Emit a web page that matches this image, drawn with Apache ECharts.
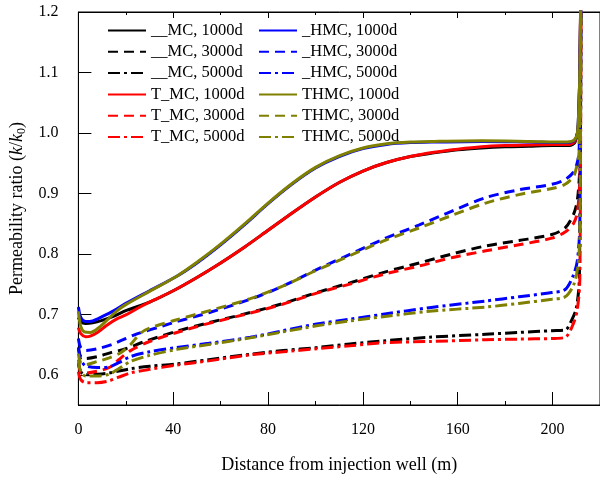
<!DOCTYPE html>
<html>
<head>
<meta charset="utf-8">
<script src="https://cdn.jsdelivr.net/npm/echarts@6/dist/echarts.min.js"></script>
<style>
	html, body { margin: 0; padding: 0; background: #fff; }
	#container { width: 600px; height: 479px; }
</style>
</head>
<body>
<div id="container"></div>
<script>
// 刻度
var xTicks = [0, 40, 80, 120, 160, 200];
var yTicks = [0.6, 0.7, 0.8, 0.9, 1.0, 1.1, 1.2];

// 图例名称
var namesLeft = ['__MC, 1000d', '__MC, 3000d', '__MC, 5000d', 'T_MC, 1000d', 'T_MC, 3000d', 'T_MC, 5000d'];
var namesRight = ['_HMC, 1000d', '_HMC, 3000d', '_HMC, 5000d', 'THMC, 1000d', 'THMC, 3000d', 'THMC, 5000d'];

// [距离(m), k/k0]
var mc1000 = [[0,0.695],[1,0.688],[3,0.685],[6,0.686],[10,0.69],[15,0.697],[20,0.706],[25,0.713],[30,0.72],[40,0.739],[50,0.761],[60,0.785],[70,0.811],[80,0.839],[90,0.867],[100,0.894],[110,0.918],[120,0.937],[130,0.951],[140,0.961],[150,0.967],[160,0.972],[170,0.975],[180,0.977],[190,0.978],[200,0.979],[207,0.979],[209.5,0.985],[211,1.02],[212,1.3]];
var mc3000 = [[0,0.645],[1,0.63],[3,0.627],[8,0.63],[14,0.637],[20,0.643],[28,0.655],[41.5,0.672],[55,0.686],[72.5,0.703],[86.4,0.718],[100.5,0.736],[114.5,0.752],[128.5,0.769],[143.8,0.785],[157.8,0.8],[171.8,0.813],[185.8,0.822],[199.7,0.832],[205.3,0.843],[208.8,0.865],[210.5,0.89],[211.5,0.95],[212,1.3]];
var mc5000 = [[0,0.62],[1,0.605],[3,0.6],[8,0.601],[13,0.603],[17,0.606],[22,0.61],[30,0.614],[41.5,0.618],[55,0.625],[72.5,0.634],[86.4,0.64],[100.5,0.645],[114.5,0.651],[128.5,0.656],[148,0.662],[171.8,0.667],[185.8,0.67],[199.7,0.673],[205.3,0.674],[208,0.69],[210,0.71],[211.3,0.76],[212,1.3]];
var tmc1000 = [[0,0.678],[1,0.668],[3,0.663],[5,0.664],[8,0.67],[12,0.682],[16,0.692],[20,0.699],[25,0.71],[30,0.72],[40,0.739],[50,0.761],[60,0.785],[70,0.811],[80,0.839],[90,0.867],[100,0.894],[110,0.918],[120,0.937],[130,0.951],[140,0.961],[150,0.968],[160,0.973],[170,0.977],[180,0.979],[190,0.98],[200,0.981],[207,0.981],[209.5,0.987],[211,1.02],[212,1.3]];
var tmc3000 = [[0,0.62],[1,0.605],[3,0.603],[8,0.606],[13,0.612],[17,0.625],[22,0.64],[30,0.655],[41.5,0.67],[55,0.685],[72.5,0.702],[86.4,0.717],[100.5,0.735],[114.5,0.75],[128.5,0.766],[143.8,0.78],[157.8,0.794],[171.8,0.805],[185.8,0.815],[199.7,0.826],[205.3,0.836],[208.8,0.85],[210.5,0.87],[211.5,0.93],[212,1.3]];
var tmc5000 = [[0,0.605],[1,0.592],[3,0.587],[8,0.587],[13,0.59],[17,0.596],[22,0.603],[30,0.609],[41.5,0.616],[55,0.623],[72.5,0.633],[86.4,0.638],[100.5,0.643],[114.5,0.648],[128.5,0.653],[148,0.655],[171.8,0.658],[185.8,0.659],[199.7,0.66],[205.3,0.662],[208.8,0.685],[210.5,0.71],[211.5,0.76],[212,1.3]];
var hmc1000 = [[0,0.712],[1,0.695],[3,0.688],[6,0.689],[10,0.696],[15,0.706],[20,0.718],[30,0.739],[41.5,0.763],[50,0.785],[60,0.815],[70,0.848],[80,0.883],[90,0.915],[100,0.942],[110,0.961],[120,0.974],[130,0.981],[140,0.984],[150,0.985],[170,0.986],[190,0.985],[205,0.984],[209,0.987],[210.5,1.0],[211.5,1.1],[212,1.3]];
var hmc3000 = [[0,0.66],[1,0.645],[3,0.64],[8,0.643],[14,0.65],[20,0.66],[25,0.668],[35.8,0.681],[41.5,0.688],[55.3,0.703],[72.5,0.725],[86.4,0.747],[100.5,0.774],[114.5,0.799],[128.5,0.824],[143.8,0.848],[157.8,0.871],[171.8,0.893],[185.8,0.906],[199.7,0.915],[205.3,0.923],[208.8,0.935],[210.2,0.948],[211.2,0.97],[212,1.3]];
var hmc5000 = [[0,0.645],[1,0.625],[3,0.615],[8,0.612],[13,0.613],[17,0.62],[22,0.63],[30,0.638],[41.5,0.645],[55,0.652],[72.5,0.662],[86.4,0.673],[100.5,0.684],[114.5,0.692],[128.5,0.7],[148,0.711],[171.8,0.722],[185.8,0.729],[199.7,0.736],[205.3,0.741],[208.8,0.765],[210.5,0.79],[211.5,0.85],[212,1.3]];
var thmc1000 = [[0,0.705],[1,0.68],[2.5,0.671],[5,0.67],[8,0.676],[12,0.69],[16,0.705],[20,0.716],[30,0.738],[41.5,0.763],[50,0.786],[60,0.816],[70,0.849],[80,0.884],[90,0.916],[100,0.943],[110,0.962],[120,0.975],[130,0.982],[140,0.985],[150,0.986],[170,0.987],[190,0.986],[205,0.985],[209,0.988],[210.5,1.0],[211.5,1.1],[212,1.3]];
var thmc3000 = [[0,0.635],[1,0.62],[3,0.617],[8,0.622],[13,0.628],[18,0.637],[22,0.65],[26,0.668],[30,0.677],[41.5,0.691],[55.3,0.706],[72.5,0.726],[86.4,0.747],[100.5,0.773],[114.5,0.797],[128.5,0.821],[143.8,0.843],[157.8,0.864],[171.8,0.884],[185.8,0.898],[199.7,0.908],[205.3,0.915],[208.8,0.928],[210.2,0.945],[211.2,0.97],[212,1.3]];
var thmc5000 = [[0,0.625],[1,0.605],[3,0.598],[8,0.598],[13,0.601],[17,0.61],[22,0.622],[30,0.632],[41.5,0.642],[55,0.65],[72.5,0.661],[86.4,0.671],[100.5,0.681],[114.5,0.689],[128.5,0.696],[148,0.705],[171.8,0.712],[185.8,0.718],[199.7,0.725],[205.3,0.729],[208.8,0.748],[210.5,0.775],[211.5,0.83],[212,1.3]];

var FONT = 'Liberation Serif';
var DASH = [10, 6];
var DASHDOT = [12, 4, 3, 4];

function makeLine(name, data, color, type) {
	return {
		name: name,
		type: 'line',
		data: data,
		symbol: 'none',
		smooth: 0.3,
		lineStyle: { color: color, width: 3, type: type },
		itemStyle: { color: color }
	};
}

function makeLegend(names, left) {
	return {
		data: names,
		orient: 'vertical',
		left: left,
		top: 17,
		itemWidth: 38,
		itemHeight: 12,
		itemGap: 4.3,
		// 图例只画线，不画圆点
		itemStyle: { opacity: 0 },
		textStyle: { fontFamily: FONT, fontSize: 16.5, color: '#000', lineHeight: 16 }
	};
}

var myChart = echarts.init(document.getElementById('container'));
var option = {
	backgroundColor: '#fff',
	animation: false,
	grid: { left: 77, right: 0, top: 12, bottom: 73, show: true, borderColor: '#000', borderWidth: 1 },
	legend: [makeLegend(namesLeft, 102), makeLegend(namesRight, 253)],
	xAxis: [{
		type: 'value', min: 0, max: 220, interval: 40,
		name: 'Distance from injection well (m)',
		nameLocation: 'middle', nameGap: 51,
		nameTextStyle: { fontFamily: FONT, fontSize: 18, color: '#000' },
		axisLine: { lineStyle: { color: '#000', width: 1 } },
		axisTick: { inside: true, length: 13, lineStyle: { color: '#000' } },
		minorTick: { show: true, splitNumber: 2, length: 4, lineStyle: { color: '#000' } },
		axisLabel: { showMaxLabel: false, margin: 17, fontFamily: FONT, fontSize: 16, color: '#000' },
		splitLine: { show: false }
	}, {
		type: 'value', min: 0, max: 220, interval: 40, position: 'top',
		axisLine: { lineStyle: { color: '#000', width: 1 } },
		axisTick: { inside: true, length: 6, lineStyle: { color: '#000' } },
		minorTick: { show: true, splitNumber: 2, length: 3, lineStyle: { color: '#000' } },
		axisLabel: { show: false },
		splitLine: { show: false }
	}],
	yAxis: {
		type: 'value', min: 0.55, max: 1.2,
		name: 'Permeability ratio ({it|k}/{it|k}{sub|0})',
		nameLocation: 'middle', nameGap: 50,
		nameTextStyle: {
			fontFamily: FONT, fontSize: 18, color: '#000',
			rich: {
				it: { fontFamily: FONT, fontSize: 18, fontStyle: 'italic', color: '#000' },
				sub: { fontFamily: FONT, fontSize: 12, color: '#000', padding: [9, 0, 0, 0] }
			}
		},
		axisLine: { lineStyle: { color: '#000', width: 1 } },
		axisTick: { inside: true, length: 13, customValues: yTicks, lineStyle: { color: '#000' } },
		axisLabel: {
			margin: 20, fontFamily: FONT, fontSize: 16, color: '#000',
			customValues: yTicks,
			formatter: function (v) { return v.toFixed(1); }
		},
		splitLine: { show: false }
	},
	series: [
		makeLine(namesLeft[0], mc1000, '#000000', 'solid'),
		makeLine(namesLeft[1], mc3000, '#000000', DASH),
		makeLine(namesLeft[2], mc5000, '#000000', DASHDOT),
		makeLine(namesLeft[3], tmc1000, '#ff0000', 'solid'),
		makeLine(namesLeft[4], tmc3000, '#ff0000', DASH),
		makeLine(namesLeft[5], tmc5000, '#ff0000', DASHDOT),
		makeLine(namesRight[0], hmc1000, '#0000ff', 'solid'),
		makeLine(namesRight[1], hmc3000, '#0000ff', DASH),
		makeLine(namesRight[2], hmc5000, '#0000ff', DASHDOT),
		makeLine(namesRight[3], thmc1000, '#808000', 'solid'),
		makeLine(namesRight[4], thmc3000, '#808000', DASH),
		makeLine(namesRight[5], thmc5000, '#808000', DASHDOT)
	]
};
myChart.setOption(option);
</script>
</body>
</html>
